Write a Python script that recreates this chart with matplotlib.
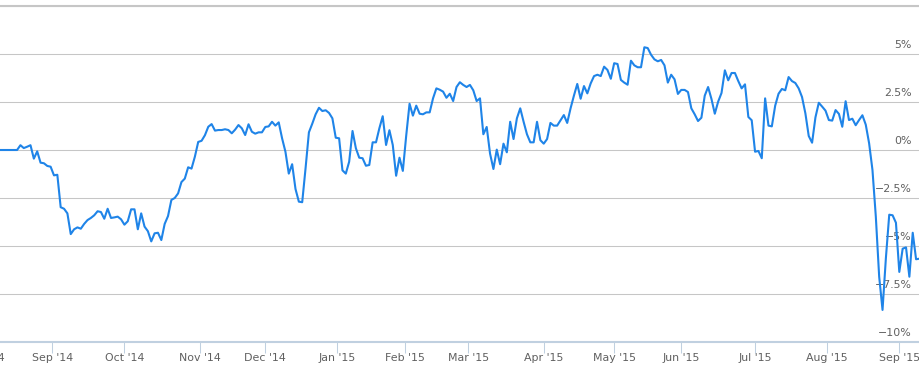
import numpy as np
import pandas as pd
import matplotlib
matplotlib.use("Agg")
import matplotlib.pyplot as plt

# NYSE closing days inside the plotted range
holidays = ['2014-09-01', '2014-11-27', '2014-12-25', '2015-01-01', '2015-01-19',
            '2015-02-16', '2015-04-03', '2015-05-25', '2015-07-03', '2015-09-07']
first_day = '2014-08-08'
last_day = '2015-09-10'

# cumulative return in %, one value per trading day
returns = [
    0, 0, 0, 0, 0, 0,
    0.25, 0.10, 0.17, 0.25, -0.45, -0.07, -0.66, -0.69, -0.83, -0.87,
    -1.32, -1.29, -2.98, -3.06, -3.30, -4.38, -4.13, -4.03, -4.10, -3.85,
    -3.65, -3.54, -3.40, -3.19, -3.23, -3.58, -3.06, -3.54, -3.51, -3.47,
    -3.61, -3.89, -3.71, -3.09, -3.09, -4.13, -3.30, -3.99, -4.23, -4.76,
    -4.34, -4.31, -4.69, -3.85, -3.44, -2.60, -2.50, -2.26, -1.67, -1.49,
    -0.90, -0.97, -0.35, 0.42, 0.48, 0.77, 1.21, 1.35, 1.01, 1.04,
    1.04, 1.08, 1.04, 0.87,
    1.06, 1.30, 1.13, 0.78, 1.34, 0.95, 0.85, 0.92, 0.92, 1.20,
    1.23, 1.47, 1.27, 1.44, 0.61, -0.09, -1.23, -0.74, -2.03, -2.69,
    -2.72, -0.95, 0.92, 1.37, 1.86, 2.20, 2.03, 2.07, 1.93, 1.65,
    0.64, 0.61, -1.06, -1.23,
    -0.61, 0.99, 0.09, -0.40, -0.43, -0.82, -0.78, 0.40, 0.40, 1.13,
    1.76, 0.26, 1.03, 0.26, -1.34, -0.40, -1.09, 0.74, 2.41, 1.79,
    2.31, 1.89, 1.86, 1.96, 1.96, 2.69, 3.21, 3.14, 3.04, 2.72,
    2.93, 2.55, 3.28, 3.53, 3.39,
    3.28, 3.39, 3.11, 2.55, 2.69, 0.82, 1.20, -0.19, -0.99, 0.02,
    -0.74, 0.33, -0.12, 1.47, 0.57, 1.65, 2.17, 1.47, 0.82, 0.40,
    0.40, 1.47, 0.51, 0.33, 0.57, 1.41, 1.27, 1.27, 1.55, 1.82,
    1.41, 2.17, 2.83,
    3.44, 2.67, 3.33, 2.95, 3.47, 3.85, 3.92, 3.85, 4.34, 4.17,
    3.71, 4.52, 4.48, 3.65, 3.51, 3.40, 4.65, 4.41, 4.31, 4.31,
    5.35, 5.31, 4.96, 4.72, 4.62, 4.69, 4.41, 3.51, 3.92, 3.68,
    2.92, 3.13, 3.13, 3.02,
    2.17, 1.86, 1.51, 1.68, 2.83, 3.28, 2.66, 1.89, 2.52, 2.97,
    4.15, 3.63, 4.01, 4.01, 3.59, 3.21, 3.42, 1.72, 1.55, -0.09,
    -0.05, -0.43, 2.69, 1.27, 1.23, 2.31, 2.93, 3.18, 3.11, 3.80,
    3.59, 3.49, 3.21, 2.76,
    1.91, 0.73, 0.38, 1.70, 2.46, 2.26, 2.05, 1.56, 1.53, 2.08,
    1.88, 1.21, 2.54, 1.56, 1.63, 1.29, 1.56, 1.81, 1.32, 0.35,
    -1.04, -3.47, -6.60, -8.33, -5.63, -3.37, -3.40, -3.79, -6.35, -5.14,
    -5.07, -6.60, -4.31, -5.69, -5.66,
]

y_ticks = [-10, -7.5, -5, -2.5, 0, 2.5, 5, 7.5]
y_labels = ['−10%', '−7.5%', '−5%', '−2.5%', '0%', '2.5%', '5%', '']

LINE = '#1f84e8'
GRID = '#c6c6c6'
AXIS = '#c0d0e0'
TEXT = '#606060'

# ordinal x axis: one slot per trading day
dates = pd.bdate_range(first_day, last_day, freq='C', holidays=holidays)
pos = np.arange(len(dates))

hol = np.array(holidays, dtype='datetime64[D]')
month_starts = pd.date_range('2014-08-01', '2015-09-01', freq='MS')
ms = month_starts.values.astype('datetime64[D]')
tick_pos = np.busday_count(np.datetime64(first_day, 'D'), ms, holidays=hol) \
    - 0.5 * (~np.is_busday(ms, holidays=hol))
tick_lab = [d.strftime("%b '%y") for d in month_starts]

fig = plt.figure(figsize=(9.2, 3.72), dpi=100)
ax = fig.add_axes([0, 30 / 372, 1, 336 / 372])

ax.plot(pos, returns, color=LINE, lw=1.5, solid_joinstyle='round', zorder=3)

x0, x1 = -0.09, 274.17
ax.set_xlim(x0, x1)
ax.set_ylim(-10, 7.5)

ax.set_yticks(y_ticks)
ax.tick_params(axis='y', left=False, labelleft=False)
ax.grid(axis='y', color=GRID, lw=0.75, zorder=0)
ax.axhline(7.5, color=GRID, lw=1.5, clip_on=False, zorder=0)

for s in ['left', 'right', 'top']:
    ax.spines[s].set_visible(False)
ax.spines['bottom'].set_color(AXIS)
ax.spines['bottom'].set_linewidth(1.5)

inside = (tick_pos >= x0) & (tick_pos <= x1)
ax.set_xticks(tick_pos[inside], [l for l, k in zip(tick_lab, inside) if k])
ax.tick_params(axis='x', length=8, width=0.75, color=AXIS,
               labelcolor=TEXT, labelsize=7.9, pad=0)

# month label whose tick falls left of the visible range
for p, lab, k in zip(tick_pos, tick_lab, inside):
    if not k:
        ax.annotate(lab, xy=(p, 0), xycoords=('data', 'axes fraction'),
                    xytext=(0, -8), textcoords='offset points',
                    ha='center', va='top', fontsize=7.9, color=TEXT,
                    annotation_clip=False)

for v, lab in zip(y_ticks, y_labels):
    ax.annotate(lab, xy=(1, v), xycoords=('axes fraction', 'data'),
                xytext=(-5.8, 6.5), textcoords='offset points',
                ha='right', va='center', fontsize=7.9, color=TEXT, zorder=1)

fig.savefig('out.png', dpi=100)
